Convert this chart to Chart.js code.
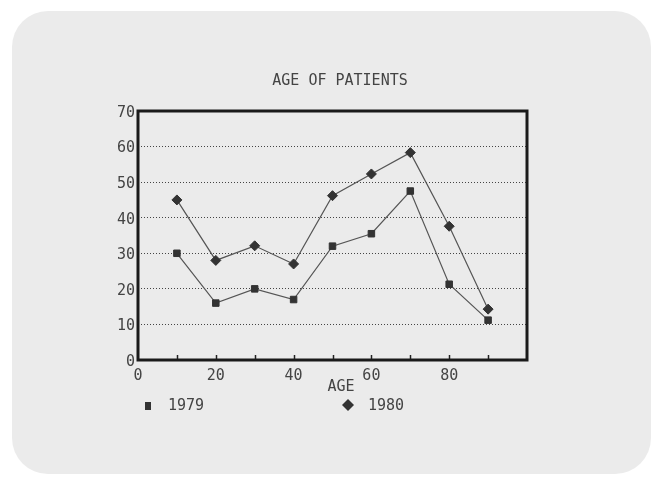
<!DOCTYPE html>
<html>
<head>
<meta charset="utf-8">
<script src="https://cdn.jsdelivr.net/npm/chart.js@4.4.1/dist/chart.umd.min.js"></script>
<style>
html,body{margin:0;padding:0;background:#fff;}
#wrap{width:651px;height:482px;position:relative;}
</style>
</head>
<body>
<div id="wrap"><canvas id="c" width="651" height="482"></canvas></div>
<script>
const chartTitle = "AGE OF PATIENTS";
const xAxisTitle = "AGE";
const ages = [10, 20, 30, 40, 50, 60, 70, 80, 90];
const series1979 = [30, 16, 20, 17, 32, 35.5, 47.5, 21.3, 11.2];
const series1980 = [45, 28, 32.1, 27, 46.2, 52.3, 58.3, 37.6, 14.3];
const seriesLabels = ["1979", "1980"];
const xTickLabels = [0, 20, 40, 60, 80];
const yTickLabels = [0, 10, 20, 30, 40, 50, 60, 70];

const FONT = "'DejaVu Sans Mono', monospace";
const INK = "#444444";

const decor = {
  id: "decor",
  beforeDraw(chart) {
    const ctx = chart.ctx;
    ctx.save();
    ctx.fillStyle = "#ffffff";
    ctx.fillRect(0, 0, chart.width, chart.height);
    ctx.fillStyle = "#ebebeb";
    ctx.beginPath();
    ctx.roundRect(12, 11, 639, 463, 36);
    ctx.fill();
    ctx.restore();
  },
  afterDatasetsDraw(chart) {
    const ctx = chart.ctx;
    const a = chart.chartArea;
    const xs = chart.scales.x;
    ctx.save();
    // inner tick marks on bottom axis
    ctx.strokeStyle = "#222";
    ctx.lineWidth = 1.5;
    for (const v of ages) {
      const px = Math.round(xs.getPixelForValue(v)) + 0.5;
      ctx.beginPath();
      ctx.moveTo(px, a.bottom);
      ctx.lineTo(px, a.bottom - 5);
      ctx.stroke();
    }
    // plot frame
    ctx.strokeStyle = "#1a1a1a";
    ctx.lineWidth = 3;
    ctx.strokeRect(a.left, a.top, a.right - a.left, a.bottom - a.top);
    // title
    ctx.fillStyle = INK;
    ctx.font = "15px " + FONT;
    ctx.textAlign = "center";
    ctx.textBaseline = "middle";
    ctx.fillText(chartTitle, 340, 81);
    // axis title
    ctx.fillText(xAxisTitle, 341, 387);
    // legend
    ctx.textAlign = "left";
    const items = [
      {label: seriesLabels[0], x: 148, style: "rect"},
      {label: seriesLabels[1], x: 348, style: "rectRot"}
    ];
    for (const it of items) {
      ctx.fillStyle = "#333";
      ctx.beginPath();
      if (it.style === "rect") {
        ctx.rect(it.x - 3, 402, 6, 8);
      } else {
        ctx.moveTo(it.x, 399);
        ctx.lineTo(it.x + 6, 405);
        ctx.lineTo(it.x, 411);
        ctx.lineTo(it.x - 6, 405);
        ctx.closePath();
      }
      ctx.fill();
      ctx.fillStyle = INK;
      ctx.fillText(it.label, it.x + 20, 406);
    }
    ctx.restore();
  }
};

new Chart(document.getElementById("c"), {
  type: "line",
  data: {
    datasets: [
      {
        label: seriesLabels[0],
        data: ages.map((a, i) => ({x: a, y: series1979[i]})),
        borderColor: "#555",
        borderWidth: 1.2,
        pointStyle: "rect",
        pointRadius: 4.6,
        pointBackgroundColor: "#333",
        pointBorderColor: "#333",
        pointBorderWidth: 1,
        tension: 0
      },
      {
        label: seriesLabels[1],
        data: ages.map((a, i) => ({x: a, y: series1980[i]})),
        borderColor: "#555",
        borderWidth: 1.2,
        pointStyle: "rectRot",
        pointRadius: 5,
        pointBackgroundColor: "#333",
        pointBorderColor: "#333",
        pointBorderWidth: 1,
        tension: 0
      }
    ]
  },
  options: {
    responsive: false,
    animation: false,
    events: [],
    layout: {padding: {left: 0, top: 111, right: 124, bottom: 0}},
    plugins: {
      legend: {display: false},
      title: {display: false},
      tooltip: {enabled: false}
    },
    scales: {
      x: {
        type: "linear",
        min: 0,
        max: 100,
        afterFit(s) { s.height = 122; },
        afterBuildTicks(s) { s.ticks = xTickLabels.map(v => ({value: v})); },
        grid: {display: false, drawTicks: false},
        border: {display: false},
        ticks: {
          padding: 7,
          color: INK,
          font: {family: FONT, size: 15},
          maxRotation: 0,
          autoSkip: false
        }
      },
      y: {
        type: "linear",
        min: 0,
        max: 70,
        afterFit(s) { s.width = 138; },
        afterBuildTicks(s) { s.ticks = yTickLabels.map(v => ({value: v})); },
        grid: {
          drawTicks: false,
          lineWidth: 1,
          color: (c) => (c.tick && (c.tick.value === 0 || c.tick.value === 70)) ? "rgba(0,0,0,0)" : "#444"
        },
        border: {display: false, dash: [1, 2]},
        ticks: {
          padding: 3,
          labelOffset: 2,
          color: INK,
          font: {family: FONT, size: 15}
        }
      }
    }
  },
  plugins: [decor]
});
</script>
</body>
</html>
